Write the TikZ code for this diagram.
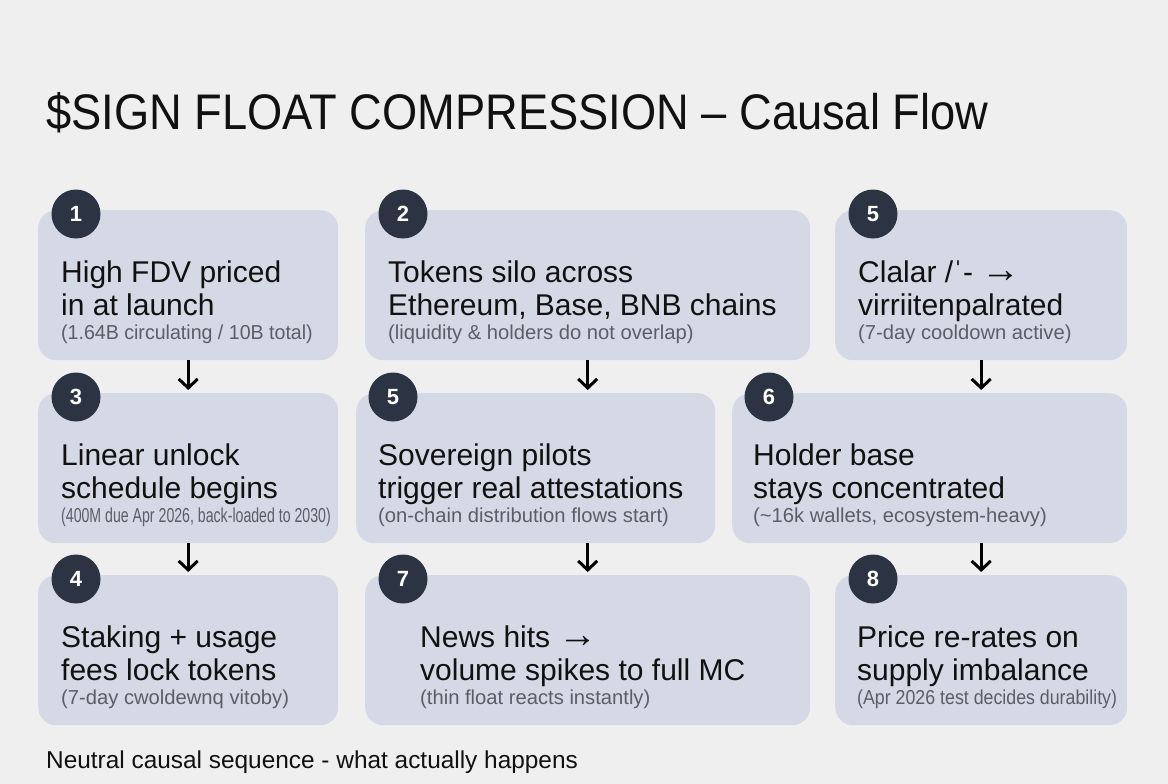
\documentclass[tikz,border=0pt]{standalone}
\usepackage{fontspec}
\setmainfont{Liberation Sans}
\usetikzlibrary{arrows.meta,positioning}
\definecolor{BgClr}{HTML}{EFEFF0}
\definecolor{CardClr}{HTML}{D4D9E5}
\definecolor{BadgeClr}{HTML}{2C3443}
\definecolor{HeadClr}{HTML}{111111}
\definecolor{SubClr}{HTML}{5A5E66}
\newcommand{\bigarr}{\scalebox{1.3}{→}}

\begin{document}
\begin{tikzpicture}[x=1pt,y=-1pt,
  card/.style={fill=CardClr,rounded corners=18pt,anchor=north west,inner sep=0pt,minimum height=150pt},
  badge/.style={circle,fill=BadgeClr,text=white,minimum size=49pt,inner sep=0pt,font=\fontsize{22}{22}\selectfont\bfseries},
  headtxt/.style={anchor=north west,align=left,inner sep=0pt,text=HeadClr,font=\fontsize{30}{32.5}\selectfont},
  subtxt/.style={anchor=north west,inner sep=0pt,text=SubClr,font=\fontsize{20.2}{22}\selectfont},
  flow/.style={-{Straight Barb[length=9pt,width=19pt]},line width=3pt,shorten >=3pt}]

\fill[BgClr] (0,0) rectangle (1168,784);
\useasboundingbox (0,0) rectangle (1168,784);

% title and footer
\node[anchor=base west,inner sep=0pt,text=HeadClr,font=\fontsize{50}{50}\selectfont] (title) at (46,129)
  {\scalebox{0.905}[1]{\$SIGN FLOAT COMPRESSION – Causal Flow}};
\node[anchor=base west,inner sep=0pt,text=HeadClr,font=\fontsize{24.4}{25}\selectfont] (foot) at (46,768)
  {Neutral causal sequence - what actually happens};

% cards
\node[card,minimum width=300pt] (B1) at (38,210) {};
\node[card,minimum width=445pt] (B2) at (365,210) {};
\node[card,minimum width=292pt] (B3) at (835,210) {};
\node[card,minimum width=300pt] (B4) at (38,393) {};
\node[card,minimum width=359pt] (B5) at (356,393) {};
\node[card,minimum width=395pt] (B6) at (732,393) {};
\node[card,minimum width=300pt] (B7) at (38,575) {};
\node[card,minimum width=445pt] (B8) at (365,575) {};
\node[card,minimum width=292pt] (B9) at (835,575) {};

% badges
\node[badge] (N1) at ([xshift=38pt,yshift=-4pt]B1.north west) {1};
\node[badge] (N2) at ([xshift=38pt,yshift=-4pt]B2.north west) {2};
\node[badge] (N3) at ([xshift=38pt,yshift=-4pt]B3.north west) {5};
\node[badge] (N4) at ([xshift=38pt,yshift=-4pt]B4.north west) {3};
\node[badge] (N5) at ([xshift=37pt,yshift=-4pt]B5.north west) {5};
\node[badge] (N6) at ([xshift=37pt,yshift=-4pt]B6.north west) {6};
\node[badge] (N7) at ([xshift=38pt,yshift=-4pt]B7.north west) {4};
\node[badge] (N8) at ([xshift=38pt,yshift=-4pt]B8.north west) {7};
\node[badge] (N9) at ([xshift=38pt,yshift=-4pt]B9.north west) {8};

% texts
\node[headtxt] (H1) at ([xshift=23pt,yshift=-51pt]B1.north west) {High FDV priced\\in at launch};
\node[subtxt]  (S1) at ([xshift=23pt,yshift=-115pt]B1.north west) {\scalebox{0.97}[1]{(1.64B circulating / 10B total)}};
\node[headtxt] (H2) at ([xshift=23pt,yshift=-51pt]B2.north west) {Tokens silo across\\Ethereum, Base, BNB chains};
\node[subtxt]  (S2) at ([xshift=23pt,yshift=-115pt]B2.north west) {(liquidity \& holders do not overlap)};
\node[headtxt] (H3) at ([xshift=23pt,yshift=-51pt]B3.north west) {Clalar /ˈ- \bigarr\\virriitenpalrated};
\node[subtxt]  (S3) at ([xshift=23pt,yshift=-115pt]B3.north west) {(7-day cooldown active)};

\node[headtxt] (H4) at ([xshift=23pt,yshift=-51pt]B4.north west) {Linear unlock\\schedule begins};
\node[subtxt]  (S4) at ([xshift=23pt,yshift=-115pt]B4.north west)
  {\scalebox{0.7}[1]{(400M due Apr 2026, back-loaded to 2030)}};
\node[headtxt] (H5) at ([xshift=22pt,yshift=-51pt]B5.north west) {Sovereign pilots\\trigger real attestations};
\node[subtxt]  (S5) at ([xshift=22pt,yshift=-115pt]B5.north west) {(on-chain distribution flows start)};
\node[headtxt] (H6) at ([xshift=21pt,yshift=-51pt]B6.north west) {Holder base\\stays concentrated};
\node[subtxt]  (S6) at ([xshift=21pt,yshift=-115pt]B6.north west) {(\textasciitilde16k wallets, ecosystem-heavy)};

\node[headtxt] (H7) at ([xshift=23pt,yshift=-51pt]B7.north west) {Staking + usage\\fees lock tokens};
\node[subtxt]  (S7) at ([xshift=23pt,yshift=-115pt]B7.north west) {(7-day cwoldewnq vitoby)};
\node[headtxt] (H8) at ([xshift=55pt,yshift=-51pt]B8.north west) {News hits \bigarr\\volume spikes to full MC};
\node[subtxt]  (S8) at ([xshift=55pt,yshift=-115pt]B8.north west) {(thin float reacts instantly)};
\node[headtxt] (H9) at ([xshift=22pt,yshift=-51pt]B9.north west) {Price re-rates on\\supply imbalance};
\node[subtxt]  (S9) at ([xshift=22pt,yshift=-115pt]B9.north west)
  {\scalebox{0.88}[1]{(Apr 2026 test decides durability)}};

% causal arrows
\draw[flow] (B1.south) -- (B4.north);
\draw[flow] (B2.south) -- (B2.south |- B5.north);
\draw[flow] (B3.south) -- (B3.south |- B6.north);
\draw[flow] (B4.south) -- (B7.north);
\draw[flow] (B8.north |- B5.south) -- (B8.north);
\draw[flow] (B9.north |- B6.south) -- (B9.north);

\end{tikzpicture}
\end{document}
